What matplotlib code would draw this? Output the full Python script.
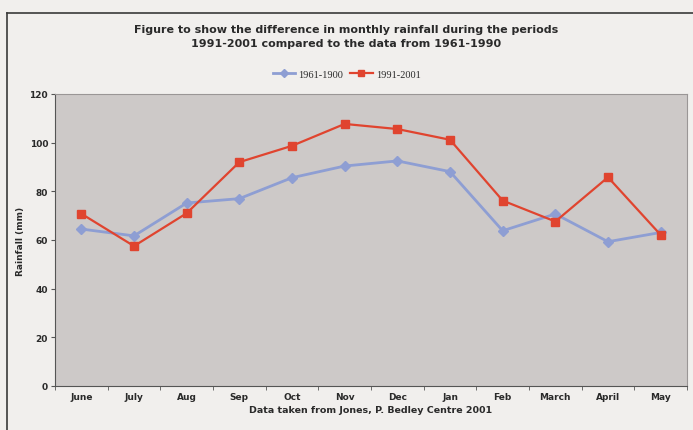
import matplotlib.pyplot as plt
from matplotlib.lines import Line2D

maanden = ['June', 'July', 'Aug', 'Sep', 'Oct', 'Nov', 'Dec', 'Jan', 'Feb', 'March', 'April', 'May']
oud = [64.5, 61.7, 75.2, 77.0, 85.6, 90.4, 92.5, 88.1, 63.8, 70.7, 59.3, 63.1]
nieuw = [70.8, 57.5, 71.0, 92.0, 98.7, 107.7, 105.6, 101.2, 76.2, 67.6, 85.8, 62.1]

blauw = '#8e9ed3'
rood = '#e0442f'
tekst = '#2a2a2a'

fig = plt.figure(figsize=(6.93, 4.31), dpi=100)
fig.patch.set_facecolor('#f1efed')
ax = fig.add_axes([55/693, 44/431, 632/693, 292/431])
ax.set_facecolor('#cdc9c8')

x = range(len(maanden))
ax.plot(x, oud, color=blauw, lw=2.0, marker='D', ms=5, mec=blauw, mfc=blauw, label='1961-1900')
ax.plot(x, nieuw, color=rood, lw=1.6, marker='s', ms=6, mec=rood, mfc=rood, label='1991-2001')

ax.set_xlim(-0.5, 11.5)
ax.set_ylim(0, 120)
ax.set_yticks(range(0, 121, 20))
ax.set_xticks(x)
ax.set_xticklabels(maanden)
ax.set_xticks([i + 0.5 for i in range(-1, 12)], minor=True)
ax.tick_params(axis='x', which='major', length=0, pad=4)
ax.tick_params(axis='x', which='minor', length=3, color='#555555', direction='out')
ax.tick_params(axis='y', length=3, color='#555555', direction='out', pad=2)
for lab in ax.get_xticklabels() + ax.get_yticklabels():
    lab.set_fontsize(6.5)
    lab.set_fontweight('bold')
    lab.set_color(tekst)

for kant in ['top', 'right']:
    ax.spines[kant].set_color('#9a9696')
    ax.spines[kant].set_linewidth(0.8)
ax.spines['left'].set_color('#555555')
ax.spines['bottom'].set_color('#555555')

ax.set_ylabel('Rainfall (mm)', fontsize=6.5, fontweight='bold', color=tekst, labelpad=3)
ax.set_xlabel('Data taken from Jones, P. Bedley Centre 2001', fontsize=6.8, fontweight='bold',
              color=tekst, labelpad=3)

fig.text(0.5, 1 - 37/431, 'Figure to show the difference in monthly rainfall during the periods\n'
         '1991-2001 compared to the data from 1961-1990', ha='center', va='center',
         fontsize=8.0, fontweight='bold', color=tekst, linespacing=1.4)

leg = fig.legend(loc='center', bbox_to_anchor=(0.5, 1 - 75/431), ncol=2, frameon=False,
                 prop={'family': 'Liberation Serif', 'size': 7.5}, handlelength=2.2,
                 columnspacing=0.6, handletextpad=0.3, markerscale=0.8)
for t in leg.get_texts():
    t.set_color(tekst)

# kader om de grafiek
fig.add_artist(Line2D([7/693, 7/693], [0, 1 - 14/431], color='#3a3a3a', lw=1.2))
fig.add_artist(Line2D([7/693, 1], [1 - 14/431, 1 - 14/431], color='#3a3a3a', lw=1.2))

fig.savefig('out.png', dpi=100, facecolor=fig.get_facecolor())
